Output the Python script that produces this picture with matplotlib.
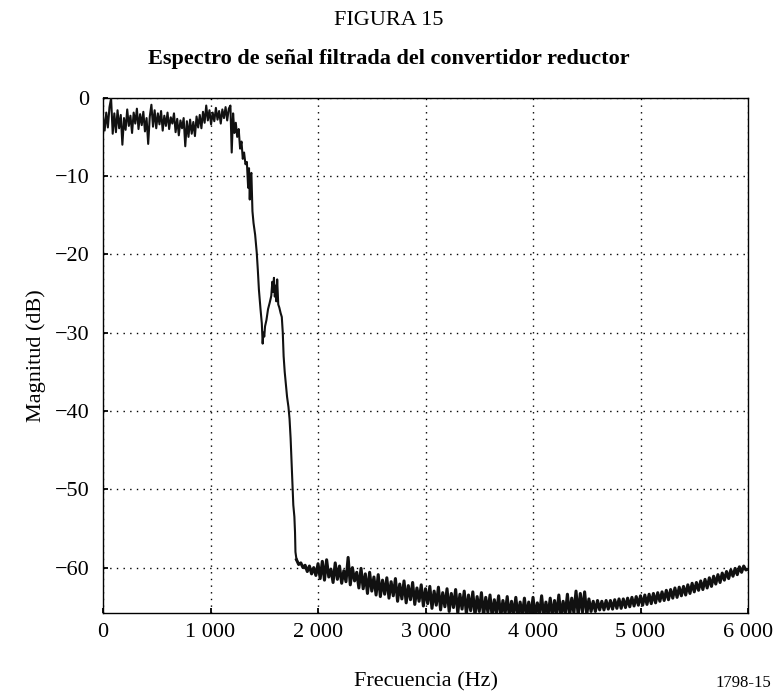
import numpy as np
import matplotlib
matplotlib.use("Agg")
import matplotlib.pyplot as plt

plt.rcParams.update({
    "font.family": ["Liberation Serif", "DejaVu Serif"],
    "font.size": 16,
    "axes.linewidth": 1.0,
})

# passband, 15 Hz bins from 0 to 1185 Hz
pass_freq = np.arange(0, 1186, 15)
pass_mag = [
    -2.4, -4.2, -1.9, -3.8, -1.2, -0.1, -4.6, -2.0, -4.4, -1.6,
    -3.9, -2.2, -6.0, -2.6, -4.1, -1.5, -3.6, -2.3, -4.5, -1.9,
    -3.3, -1.4, -4.0, -2.1, -3.5, -1.8, -4.3, -2.6, -5.9, -2.4,
    -0.9, -3.7, -1.6, -3.9, -2.0, -3.4, -1.7, -4.2, -2.3, -3.6,
    -1.9, -4.0, -2.5, -3.3, -2.0, -4.4, -2.7, -4.8, -2.9, -3.9,
    -2.6, -6.2, -3.0, -5.0, -2.8, -4.6, -3.1, -4.9, -2.4, -3.8,
    -2.2, -3.9, -1.8, -3.2, -1.0, -2.9, -1.6, -3.4, -1.9, -3.0,
    -1.3, -2.8, -1.7, -3.3, -1.5, -2.6, -1.2, -2.9, -1.4, -1.0,
]

# filter edge and the lobe around 1.6 kHz
trans_freq = [
    1197, 1210, 1222, 1235, 1248, 1262, 1275, 1288, 1300, 1312,
    1325, 1338, 1350, 1358, 1365, 1372, 1380, 1390, 1400, 1415,
    1430, 1440, 1450, 1465, 1477, 1485, 1492, 1500, 1507, 1520,
    1535, 1550, 1565, 1575, 1582, 1590, 1598, 1605, 1612, 1620,
    1630, 1640, 1652, 1663, 1672, 1680, 1690, 1700, 1712, 1725,
    1735, 1745, 1755, 1762, 1770, 1780, 1786, 1790, 1796, 1800,
]
trans_mag = [
    -7.0, -2.0, -4.5, -3.2, -5.0, -4.0, -6.5, -5.6, -7.8, -7.0,
    -8.5, -8.2, -11.5, -9.0, -13.0, -10.0, -9.6, -14.5, -16.0, -17.5,
    -19.8, -22.0, -24.5, -27.0, -28.8, -31.4, -30.0, -30.5, -29.2, -28.4,
    -27.0, -26.2, -25.3, -23.5, -24.8, -23.0, -25.4, -24.0, -26.0, -23.2,
    -26.4, -26.8, -27.5, -28.0, -30.0, -33.0, -35.0, -36.5, -38.2, -39.5,
    -41.0, -43.5, -47.0, -49.8, -52.0, -53.5, -55.5, -58.0, -58.6, -59.0,
]

# stopband, 20 Hz bins from 1800 to 6000 Hz
stop_freq = np.arange(1800, 6001, 20)
stop_mag = [
    -59.0, -59.6, -59.4, -60.0, -59.7, -60.5, -59.8, -60.8, -60.0, -61.0,
    -59.5, -61.4, -59.2, -61.6, -59.0, -61.2, -60.2, -61.9, -59.4, -61.5,
    -59.8, -62.0, -60.4, -61.8, -58.7, -62.2, -60.0, -61.7, -60.6, -62.6,
    -60.1, -62.7, -60.8, -63.3, -60.6, -63.0, -61.2, -63.5, -60.9, -63.7,
    -61.6, -63.4, -61.3, -63.9, -61.8, -63.6, -61.4, -64.3, -62.1, -64.0,
    -61.7, -64.5, -62.3, -64.1, -61.9, -64.7, -62.6, -64.3, -62.2, -64.9,
    -62.7, -64.6, -62.4, -65.2, -63.0, -64.8, -62.5, -65.4, -63.2, -65.0,
    -62.7, -65.6, -63.3, -65.1, -62.8, -65.8, -63.4, -65.3, -63.0, -65.9,
    -63.5, -65.5, -63.1, -66.1, -63.7, -65.6, -63.2, -66.2, -63.8, -65.7,
    -63.5, -66.3, -64.1, -65.8, -63.6, -66.3, -64.2, -65.9, -63.7, -66.3,
    -64.3, -66.0, -63.8, -66.3, -64.4, -66.1, -63.9, -66.3, -64.4, -66.2,
    -63.8, -66.3, -64.5, -66.0, -63.6, -66.3, -64.4, -66.1, -63.9, -66.3,
    -64.2, -66.0, -63.5, -66.3, -64.3, -65.9, -63.4, -66.2, -63.9, -65.8,
    -63.0, -66.1, -63.3, -65.7, -63.1, -66.0, -64.0, -65.6, -64.3, -65.6,
    -64.2, -65.4, -64.3, -65.4, -64.2, -65.3, -64.2, -65.3, -64.1, -65.2,
    -64.0, -65.2, -64.0, -65.1, -63.9, -65.0, -63.8, -64.9, -63.7, -64.8,
    -63.6, -64.8, -63.5, -64.7, -63.4, -64.6, -63.3, -64.5, -63.2, -64.3,
    -63.1, -64.2, -62.9, -64.1, -62.8, -63.9, -62.6, -63.8, -62.5, -63.6,
    -62.4, -63.5, -62.2, -63.3, -62.0, -63.1, -61.9, -62.9, -61.7, -62.8,
    -61.5, -62.6, -61.3, -62.4, -61.1, -62.1, -60.9, -61.9, -60.7, -61.6,
    -60.5, -61.4, -60.3, -61.1, -60.1, -60.9, -59.9, -60.6, -59.8, -60.3,
    -60.2,
]

x_ticks = [0, 1000, 2000, 3000, 4000, 5000, 6000]
x_labels = ["0", "1 000", "2 000", "3 000", "4 000", "5 000", "6 000"]
y_ticks = [0, -10, -20, -30, -40, -50, -60]

edge_freq = np.concatenate([pass_freq, trans_freq])
edge_mag = np.concatenate([pass_mag, trans_mag])

fig = plt.figure(figsize=(7.77, 6.93), dpi=100)
ax = fig.add_axes([0.1326, 0.1154, 0.8301, 0.7436])

# the stopband bins are tightly packed, a heavier stroke fills them in
ax.plot(edge_freq, edge_mag, color="#111111", lw=1.5, zorder=3)
ax.plot(stop_freq, stop_mag, color="#111111", lw=2.2, zorder=3)

ax.set_xlim(0, 6000)
ax.set_ylim(-65.8, 0)
ax.set_xticks(x_ticks)
ax.set_xticklabels(x_labels)
ax.set_yticks(y_ticks)
ax.grid(True, color="black", lw=1.0, ls=(0, (1, 3.8)))
ax.tick_params(direction="in", length=3.5, width=1.3, color="black")
ax.tick_params(axis="x", pad=7)
ax.tick_params(axis="y", pad=10)

ax.set_xlabel("Frecuencia (Hz)", labelpad=22)
ax.set_ylabel("Magnitud (dB)", labelpad=6)

fig.text(0.5, 0.970, "FIGURA 15", ha="center", va="center", fontsize=16)
fig.text(0.5, 0.915, "Espectro de señal filtrada del convertidor reductor",
         ha="center", va="center", fontsize=16, fontweight="bold")
fig.text(0.993, 0.0144, "1798-15", ha="right", va="center", fontsize=12)

fig.savefig("out.png", dpi=100)
